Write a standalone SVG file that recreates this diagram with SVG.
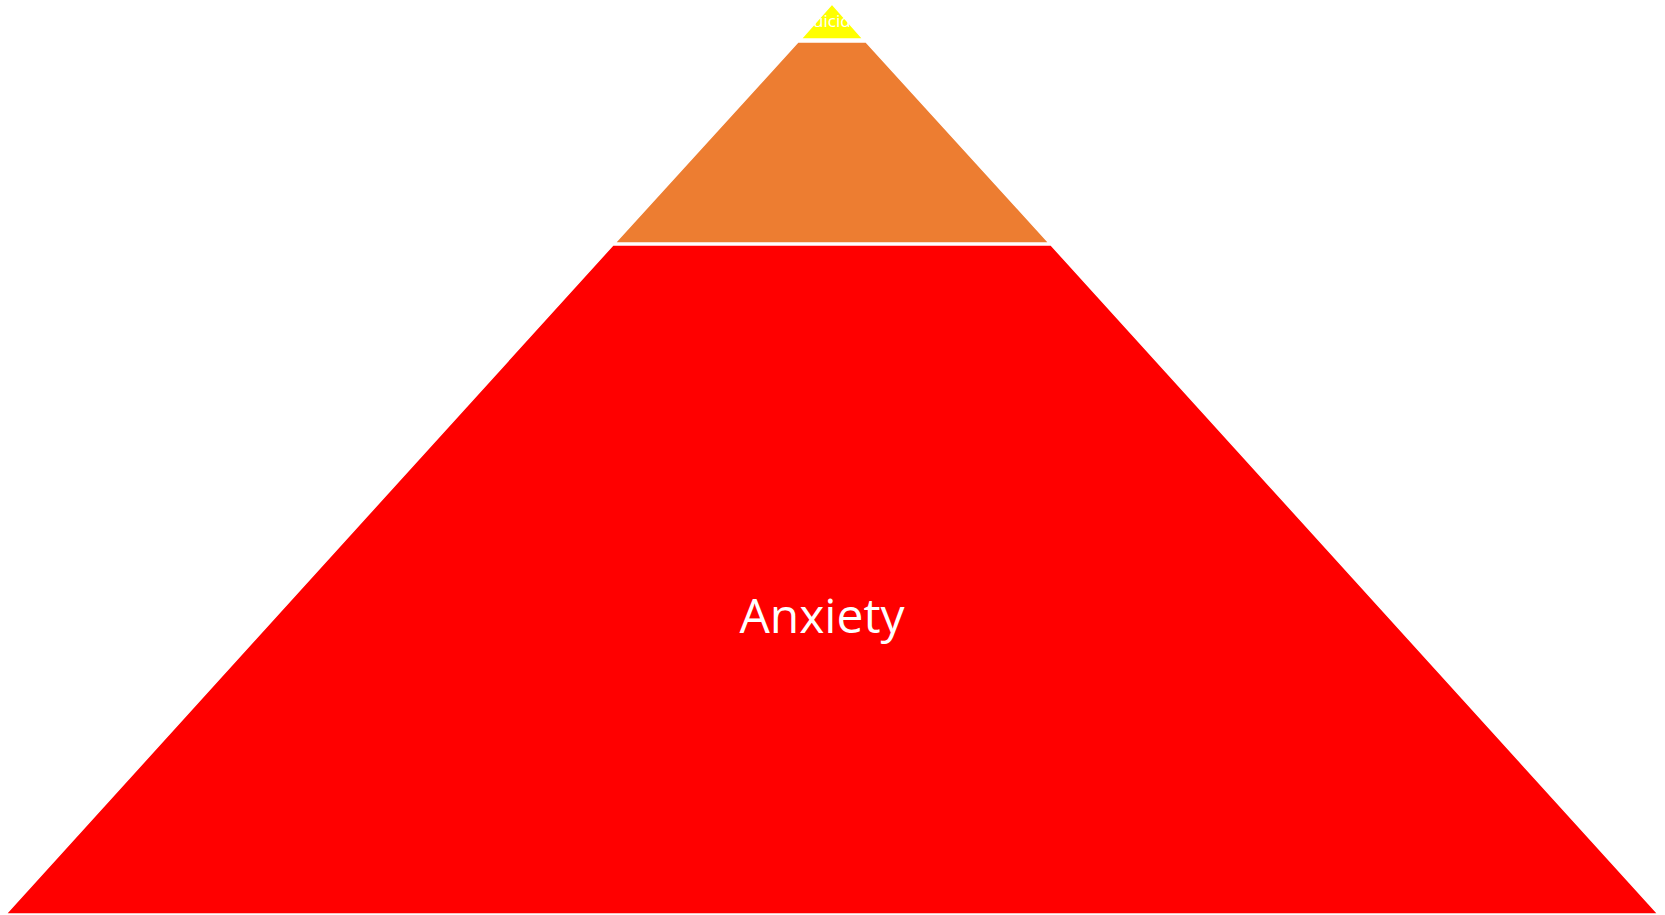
<svg xmlns="http://www.w3.org/2000/svg" width="1665" height="915" viewBox="0 0 1665 915">
<style>
.lvl{stroke:#ffffff;stroke-width:1.5}
.lbl{font-family:"Open Sans","Noto Sans",sans-serif;fill:#ffffff;text-anchor:middle}
</style>
<rect width="1665" height="915" fill="#ffffff"/>
<g id="level-suicide">
<polygon class="lvl" points="832,4 863,39 801,39" fill="#ffff00"/>
<text class="lbl" x="832" y="27" font-size="17">Suicide</text>
</g>
<g id="level-depression">
<polygon class="lvl" points="798,42 866,42 1049,243 615,243" fill="#ed7d31"/>
</g>
<g id="level-anxiety">
<polygon class="lvl" points="613,245 1051,245 1658,914 6,914" fill="#ff0000"/>
<text class="lbl" x="822" y="633" font-size="48">Anxiety</text>
</g>
<g id="connectors"/>
</svg>
